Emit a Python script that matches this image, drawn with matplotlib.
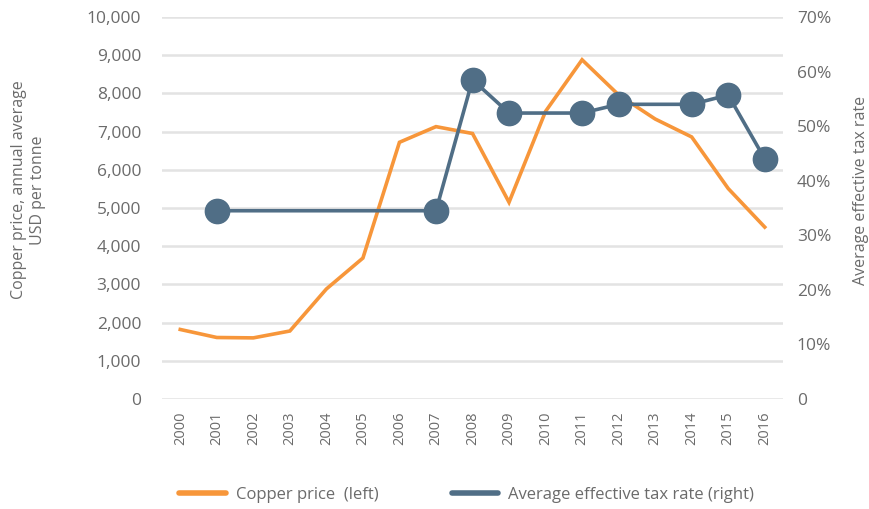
import matplotlib
matplotlib.use("Agg")
import matplotlib.pyplot as plt
from matplotlib.lines import Line2D
from matplotlib.ticker import FuncFormatter

years = list(range(2000, 2017))
copper_price = [1820, 1610, 1600, 1780, 2880, 3690, 6720, 7130, 6950, 5150,
                7530, 8880, 7960, 7330, 6860, 5510, 4500]
tax_rate = [None, 34.5, 34.5, 34.5, 34.5, 34.5, 34.5, 34.5, 58.5, 52.4,
            52.4, 52.4, 54.0, 54.0, 54.0, 55.7, 44.0]
marker_years = [2001, 2007, 2008, 2009, 2011, 2012, 2014, 2015, 2016]
left_ticks = list(range(0, 10001, 1000))
right_ticks = list(range(0, 71, 10))

ORANGE = "#F7963A"
BLUE = "#506E86"
GRID = "#E3E3E3"
TXT = "#6B6B6B"

plt.rcParams['font.family'] = ['Open Sans', 'DejaVu Sans']

fig = plt.figure(figsize=(8.69, 5.09), dpi=100)
ax = fig.add_axes([162/869, 1 - 399/509, (783 - 162)/869, (399 - 17)/509])
ax2 = ax.twinx()

x = list(range(len(years)))
ax.plot(x, copper_price, color=ORANGE, lw=2.6, solid_joinstyle='miter', zorder=2)
ax.set_ylim(0, 10000)
ax.set_xlim(-0.5, len(years) - 0.5)
ax.set_yticks(left_ticks)
ax.yaxis.set_major_formatter(FuncFormatter(lambda v, p: f"{int(v):,}"))
ax.set_xticks(x)
ax.set_xticklabels([str(y) for y in years], rotation=90)
ax.grid(axis='y', color=GRID, lw=1.8)
ax.set_axisbelow(True)

tx = [i for i, v in enumerate(tax_rate) if v is not None]
ty = [v for v in tax_rate if v is not None]
mk = [tx.index(years.index(y)) for y in marker_years]
ax2.plot(tx, ty, color=BLUE, lw=2.6, marker='o', markersize=17.5,
         markevery=mk, zorder=3)
ax2.set_ylim(0, 70)
ax2.set_yticks(right_ticks)
ax2.yaxis.set_major_formatter(FuncFormatter(lambda v, p: "0" if v == 0 else f"{int(v)}%"))

for a in (ax, ax2):
    for s in a.spines.values():
        s.set_visible(False)
    a.tick_params(length=0, colors=TXT, labelsize=12.5)
ax.tick_params(axis='y', pad=15)
ax.tick_params(axis='x', pad=9, labelsize=10.5)
ax2.tick_params(axis='y', pad=10)

fig.text(29/869, 1 - 190/509, "Copper price, annual average\nUSD per tonne",
         rotation=90, ha='center', va='center', color=TXT, fontsize=11.5,
         linespacing=1.25)
fig.text(861/869, 1 - 190/509, "Average effective tax rate",
         rotation=90, ha='center', va='center', color=TXT, fontsize=11.5)

handles = [Line2D([], [], color=ORANGE, lw=4, solid_capstyle='round'),
           Line2D([], [], color=BLUE, lw=4, solid_capstyle='round')]
fig.legend(handles, ["Copper price  (left)", "Average effective tax rate (right)"],
           loc='center left', bbox_to_anchor=(179/869, 1 - 495/509), ncol=2,
           frameon=False, fontsize=12, labelcolor=TXT, handlelength=2.8,
           columnspacing=4.4, handletextpad=0.6, borderaxespad=0, borderpad=0)

fig.savefig("out.png", dpi=100)
